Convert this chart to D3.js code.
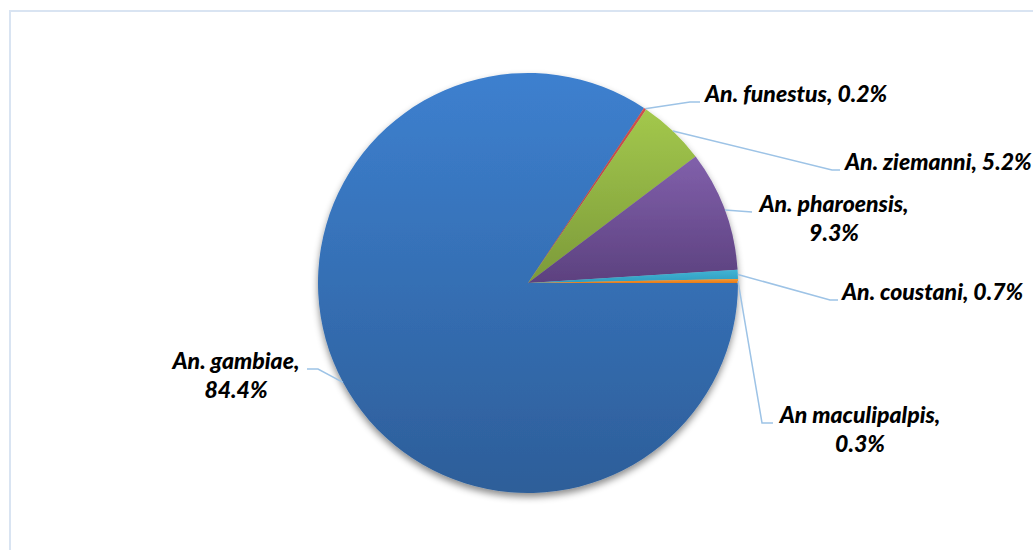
<!DOCTYPE html>
<html>
<head>
<meta charset="utf-8">
<script src="https://cdn.jsdelivr.net/npm/d3@7"></script>
<style>
  body { margin: 0; background: #fff; }
  svg { display: block; }
  .lbl { font-family: Lato, "Open Sans", sans-serif; font-weight: 900; font-style: italic; font-size: 23px; fill: #000; }
</style>
</head>
<body>
<div id="chart"></div>
<script>
const species = ["An. gambiae", "An. funestus", "An. ziemanni", "An. pharoensis", "An. coustani", "An maculipalpis"];
const shares = [84.4, 0.2, 5.2, 9.3, 0.7, 0.3];
const labelLines = [
  ["An. gambiae,", "84.4%"],
  ["An. funestus, 0.2%"],
  ["An. ziemanni, 5.2%"],
  ["An. pharoensis,", "9.3%"],
  ["An. coustani, 0.7%"],
  ["An maculipalpis,", "0.3%"]
];
const colorsTop = ["#3d80cf", "#d0504c", "#a3c84c", "#8160ab", "#42b4d4", "#f8962f"];
const colorsBottom = ["#2d5e99", "#a8403d", "#7c9a3a", "#5c417f", "#2f9cc0", "#e57d1b"];

const width = 1033, height = 550;
const cx = 528, cy = 283, radius = 210;

// label layout: elbow point, end of leader, text anchor
const layout = [
  {elbow: [318, 369], end: [307, 369], tx: 236, ty: 369, anchor: "middle"},
  {elbow: [690, 102], end: [700, 102], tx: 705, ty: 102, anchor: "start"},
  {elbow: [832, 170], end: [840, 170], tx: 845, ty: 170, anchor: "start"},
  {elbow: [752, 212], end: [752, 212], tx: 834, ty: 212, anchor: "middle"},
  {elbow: [830, 300], end: [838, 300], tx: 842, ty: 300, anchor: "start"},
  {elbow: [762, 423], end: [773, 423], tx: 860, ty: 423, anchor: "middle"}
];

const svg = d3.select("#chart").append("svg")
  .attr("width", width).attr("height", height);

const defs = svg.append("defs");
species.forEach((s, i) => {
  const g = defs.append("linearGradient")
    .attr("id", "grad" + i)
    .attr("x1", 0).attr("y1", 0).attr("x2", 0).attr("y2", 1);
  g.append("stop").attr("offset", "0%").attr("stop-color", colorsTop[i]);
  g.append("stop").attr("offset", "100%").attr("stop-color", colorsBottom[i]);
});
const shadow = defs.append("filter").attr("id", "shadow")
  .attr("x", "-10%").attr("y", "-10%").attr("width", "120%").attr("height", "125%");
shadow.append("feDropShadow")
  .attr("dx", 0).attr("dy", 4).attr("stdDeviation", 3.5)
  .attr("flood-color", "#000").attr("flood-opacity", 0.45);

// chart area border
svg.append("rect")
  .attr("x", 10).attr("y", 11)
  .attr("width", width + 20).attr("height", height + 20)
  .attr("fill", "#fff")
  .attr("stroke", "#d9e4f2").attr("stroke-width", 2);

const data = species.map((s, i) => ({name: s, value: shares[i], i}));

const pie = d3.pie()
  .value(d => d.value)
  .sort(null)
  .startAngle(Math.PI / 2)
  .endAngle(Math.PI / 2 + 2 * Math.PI);

const arcs = pie(data);
const arc = d3.arc().innerRadius(0).outerRadius(radius);

const g = svg.append("g").attr("transform", `translate(${cx},${cy})`);
g.append("g").attr("filter", "url(#shadow)")
  .selectAll("path")
  .data(arcs)
  .enter().append("path")
  .attr("d", arc)
  .attr("fill", d => `url(#grad${d.data.i})`);

// leader lines
svg.append("g")
  .selectAll("polyline")
  .data(arcs)
  .enter().append("polyline")
  .attr("points", d => {
    const a = (d.startAngle + d.endAngle) / 2;
    const p = [cx + radius * Math.sin(a), cy - radius * Math.cos(a)];
    const L = layout[d.data.i];
    return [p, L.elbow, L.end].map(q => q.join(",")).join(" ");
  })
  .attr("fill", "none")
  .attr("stroke", "#9dc3e6")
  .attr("stroke-width", 1.5);

// labels
const labels = svg.append("g")
  .selectAll("text")
  .data(arcs)
  .enter().append("text")
  .attr("class", "lbl")
  .attr("text-anchor", d => layout[d.data.i].anchor)
  .attr("x", d => layout[d.data.i].tx)
  .attr("y", d => layout[d.data.i].ty);

labels.selectAll("tspan")
  .data(d => labelLines[d.data.i].map(t => ({t, L: layout[d.data.i]})))
  .enter().append("tspan")
  .attr("x", d => d.L.tx)
  .attr("dy", (d, k) => k === 0 ? 0 : 29)
  .text(d => d.t);
</script>
</body>
</html>
